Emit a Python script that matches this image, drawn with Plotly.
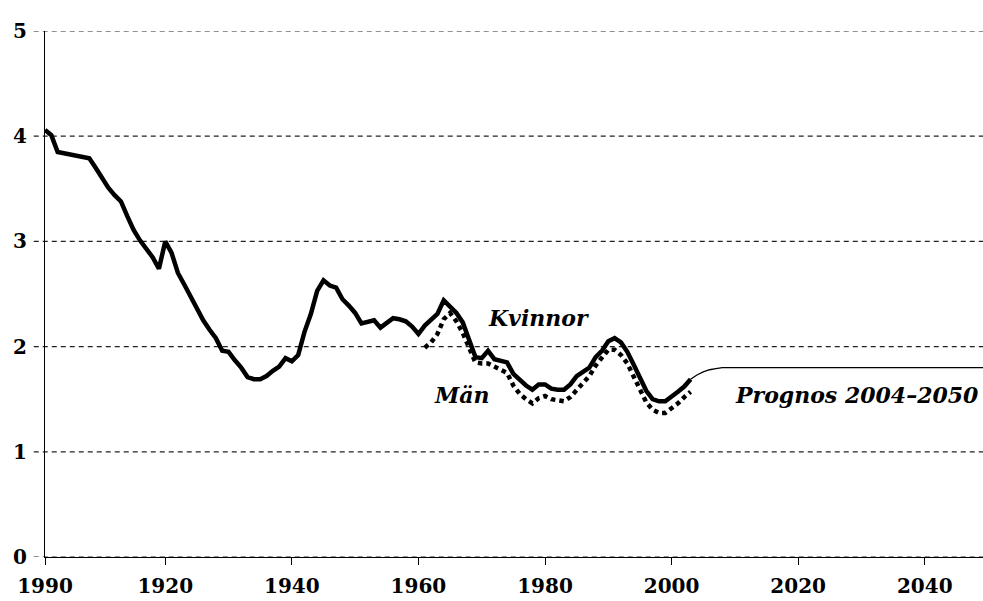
import plotly.graph_objects as go

# ---- data ----
years_women = list(range(1901, 2004))
tfr_women = [
    4.06, 4.01, 3.85, 3.84, 3.83, 3.82, 3.81, 3.79, 3.70, 3.60,   # 1901-1910
    3.51, 3.44, 3.38, 3.24, 3.11, 3.01, 2.93, 2.85, 2.74, 3.00,   # 1911-1920
    2.89, 2.70, 2.59, 2.47, 2.36, 2.25, 2.16, 2.08, 1.96, 1.95,   # 1921-1930
    1.87, 1.80, 1.71, 1.69, 1.69, 1.72, 1.77, 1.81, 1.89, 1.86,   # 1931-1940
    1.92, 2.14, 2.31, 2.53, 2.63, 2.58, 2.56, 2.45, 2.39, 2.32,   # 1941-1950
    2.22, 2.23, 2.25, 2.18, 2.22, 2.27, 2.26, 2.24, 2.19, 2.12,   # 1951-1960
    2.20, 2.25, 2.31, 2.44, 2.38, 2.32, 2.23, 2.05, 1.90, 1.89,   # 1961-1970
    1.96, 1.88, 1.86, 1.85, 1.74, 1.68, 1.63, 1.59, 1.64, 1.64,   # 1971-1980
    1.60, 1.59, 1.59, 1.64, 1.72, 1.76, 1.80, 1.90, 1.96, 2.05,   # 1981-1990
    2.08, 2.04, 1.95, 1.83, 1.70, 1.58, 1.50, 1.48, 1.48, 1.52,   # 1991-2000
    1.57, 1.62, 1.69,                                             # 2001-2003
]

years_men = list(range(1961, 2004))
tfr_men = [
    1.99, 2.04, 2.12, 2.26, 2.32, 2.24, 2.13, 1.98, 1.85, 1.84,   # 1961-1970
    1.84, 1.81, 1.78, 1.75, 1.63, 1.55, 1.50, 1.46, 1.51, 1.53,   # 1971-1980
    1.50, 1.49, 1.48, 1.52, 1.59, 1.65, 1.72, 1.82, 1.90, 1.97,   # 1981-1990
    1.97, 1.92, 1.84, 1.72, 1.58, 1.47, 1.40, 1.37, 1.37, 1.41,   # 1991-2000
    1.46, 1.52, 1.57,                                             # 2001-2003
]

years_forecast = list(range(2003, 2051))
tfr_forecast = [
    1.69, 1.73, 1.76, 1.78, 1.79, 1.80, 1.80, 1.80, 1.80, 1.80,   # 2003-2012
    1.80, 1.80, 1.80, 1.80, 1.80, 1.80, 1.80, 1.80, 1.80, 1.80,   # 2013-2022
    1.80, 1.80, 1.80, 1.80, 1.80, 1.80, 1.80, 1.80, 1.80, 1.80,   # 2023-2032
    1.80, 1.80, 1.80, 1.80, 1.80, 1.80, 1.80, 1.80, 1.80, 1.80,   # 2033-2042
    1.80, 1.80, 1.80, 1.80, 1.80, 1.80, 1.80, 1.80,               # 2043-2050
]

x_tick_vals = [1901, 1920, 1940, 1960, 1980, 2000, 2020, 2040]
x_tick_text = ["1990", "1920", "1940", "1960", "1980", "2000", "2020", "2040"]
y_tick_vals = [0, 1, 2, 3, 4, 5]

labels = ["Kvinnor", "Män", "Prognos 2004–2050"]

FONT = "DejaVu Serif"

fig = go.Figure()

fig.add_trace(go.Scatter(
    x=years_forecast, y=tfr_forecast, mode="lines",
    line=dict(color="black", width=1.3), showlegend=False, hoverinfo="skip"))
fig.add_trace(go.Scatter(
    x=years_men, y=tfr_men, mode="lines",
    line=dict(color="black", width=4.5, dash="4.5px,4px"), showlegend=False))
fig.add_trace(go.Scatter(
    x=years_women, y=tfr_women, mode="lines",
    line=dict(color="black", width=4.5), showlegend=False))

# dashed horizontal grid lines that reach slightly left of the y axis
for v in y_tick_vals:
    fig.add_shape(type="line", xref="paper", yref="y",
                  x0=-0.012, x1=1, y0=v, y1=v,
                  line=dict(color="#222222", width=1.2, dash="5px,4px"),
                  layer="below")

fig.add_annotation(x=1979.0, y=2.27, text="<b><i>" + labels[0] + "</i></b>",
                   showarrow=False, font=dict(family=FONT, size=22, color="black"))
fig.add_annotation(x=1966.9, y=1.54, text="<b><i>" + labels[1] + "</i></b>",
                   showarrow=False, font=dict(family=FONT, size=22, color="black"))
fig.add_annotation(x=2048.9, y=1.54, text="<b><i>" + labels[2] + "</i></b>",
                   xanchor="right", showarrow=False,
                   font=dict(family=FONT, size=22, color="black"))

fig.update_layout(
    width=983, height=601,
    margin=dict(l=45, r=0, t=31, b=44),
    paper_bgcolor="white", plot_bgcolor="white",
    font=dict(family=FONT, color="black"),
    xaxis=dict(
        range=[1901, 2049.2], tickmode="array",
        tickvals=x_tick_vals, ticktext=x_tick_text,
        showgrid=False, zeroline=False,
        showline=True, linecolor="black", linewidth=1.3,
        ticks="outside", ticklen=7, tickwidth=1.3, tickcolor="black",
        tickfont=dict(family=FONT, size=20, color="black", weight="bold"),
        ticklabelstandoff=4,
    ),
    yaxis=dict(
        range=[0, 5], tickmode="array", tickvals=y_tick_vals,
        showgrid=False, zeroline=False,
        showline=True, linecolor="black", linewidth=1.3,
        ticks="outside", ticklen=13, tickcolor="rgba(0,0,0,0)",
        tickfont=dict(family=FONT, size=20, color="black", weight="bold"),
    ),
)

# remove the page's default body margin so the figure fills the window exactly
fig.write_html(
    "out.html",
    config={"displayModeBar": False},
    post_script="document.body.style.margin='0';document.body.style.overflow='hidden';",
)
